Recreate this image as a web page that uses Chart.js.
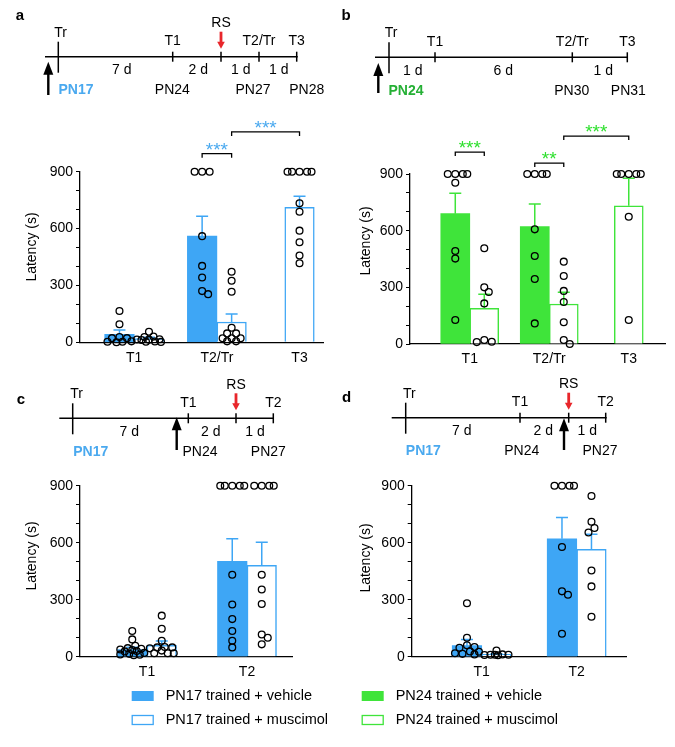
<!DOCTYPE html>
<html>
<head>
<meta charset="utf-8">
<script src="https://cdn.jsdelivr.net/npm/chart.js@4.4.1/dist/chart.umd.min.js"></script>
<style>
  html, body { margin: 0; padding: 0; background: #fff; }
  #page { position: relative; width: 675px; height: 747px; overflow: hidden; }
  canvas { position: absolute; }
</style>
</head>
<body>
<div id="page">
  <canvas id="overlay" width="675" height="747" style="left:0;top:0"></canvas>
  <canvas id="chartA" width="340" height="280" style="left:0;top:100px"></canvas>
  <canvas id="chartB" width="335" height="280" style="left:340px;top:100px"></canvas>
  <canvas id="chartC" width="340" height="230" style="left:0;top:460px"></canvas>
  <canvas id="chartD" width="335" height="230" style="left:340px;top:460px"></canvas>
</div>
<script>
// === Dados (latência em s) ===
const catsA = ["T1", "T2/Tr", "T3"];
const vehMeanA = [42, 560, null];
const vehSemA = [23, 105, null];
const musMeanA = [20, 107, 712];
const musSemA = [7, 42, 58];
const vehDotsA = [[165, 95, 28, 22, 22, 5, 3, 3, 0], [900, 900, 900, 560, 403, 342, 270, 254], []];
const musDotsA = [[56, 30, 28, 16, 15, 14, 12, 4, 3, 2], [372, 325, 267, 77, 47, 47, 21, 21, 21, 5, 5], [900, 900, 900, 900, 900, 733, 689, 589, 528, 458, 417]];
const sigA = ["***", "***"];

const catsB = ["T1", "T2/Tr", "T3"];
const vehMeanB = [690, 621, null];
const vehSemB = [108, 120, null];
const musMeanB = [189, 212, 732];
const musSemB = [74, 62, 145];
const vehDotsB = [[900, 900, 900, 900, 854, 492, 452, 127], [900, 900, 900, 900, 607, 466, 344, 109], []];
const musDotsB = [[507, 300, 275, 215, 21, 12, 10], [436, 360, 281, 222, 115, 21, 0], [900, 900, 900, 900, 900, 674, 127]];
const sigB = ["***", "**", "***"];

const catsC = ["T1", "T2"];
const vehMeanC = [38, 502];
const vehSemC = [12, 119];
const musMeanC = [60, 481];
const musSemC = [22, 121];
const vehDotsC = [[135, 91, 58, 45, 42, 38, 35, 30, 28, 20, 15, 12, 10, 8], [900, 900, 900, 900, 900, 431, 275, 198, 135, 84, 49]];
const musDotsC = [[216, 147, 84, 51, 49, 49, 44, 32, 18, 18, 18], [900, 900, 900, 900, 431, 354, 277, 117, 100, 65]];

const catsD = ["T1", "T2"];
const vehMeanD = [58, 621];
const vehSemD = [33, 112];
const musMeanD = [12, 565];
const musSemD = [3, 79];
const vehDotsD = [[281, 100, 60, 51, 47, 28, 26, 18, 15, 12], [900, 900, 900, 900, 577, 344, 326, 121]];
const musDotsD = [[32, 12, 10, 10, 9, 8, 10], [846, 710, 677, 654, 454, 370, 210]];

const legendLabels = ["PN17 trained + vehicle", "PN17 trained + muscimol", "PN24 trained + vehicle", "PN24 trained + muscimol"];

// === Cores ===
const BLUE = "#3ea6f5";
const GREEN = "#3fe43a";
const BLUE_TXT = "#4aa9ef";
const GREEN_TXT = "#25b035";
const GREEN_STAR = "#2fe02f";
const RED = "#e8262b";
const FONT = "'Liberation Sans', Arial, Helvetica, sans-serif";

Chart.defaults.font.family = FONT;
Chart.defaults.color = "#000";

// espalha pontos lado a lado dentro da barra (offset em px)
function swarm(values, pxVal, lim) {
  const placed = [];
  const cands = [0];
  for (let o = 1.5; o <= lim; o += 1.5) cands.push(o, -o);
  return values.map((v) => {
    const y = v * pxVal;
    let best = 0, bestD = -1;
    for (const off of cands) {
      const d = placed.length ? Math.min(...placed.map((p) => Math.hypot(p.off - off, p.y - y))) : Infinity;
      if (d >= 6.5) { best = off; break; }
      if (d > bestD) { bestD = d; best = off; }
    }
    placed.push({ off: best, y });
    return best;
  });
}

// barras de erro (só para cima)
const errorBars = {
  id: "errorBars",
  afterDatasetDraw(chart, args) {
    if (args.meta.type !== "bar") return;
    const ds = chart.data.datasets[args.index];
    const yS = chart.scales.y;
    const c = chart.ctx;
    c.save();
    c.strokeStyle = ds.borderColor;
    c.lineWidth = 1.5;
    args.meta.data.forEach((el, i) => {
      const m = ds.data[i].y;
      if (m == null) return;
      const yt = yS.getPixelForValue(m + ds.sem[i]);
      c.beginPath();
      c.moveTo(el.x, el.y);
      c.lineTo(el.x, yt);
      c.moveTo(el.x - 6, yt);
      c.lineTo(el.x + 6, yt);
      c.stroke();
    });
    c.restore();
  },
};

function buildPanel(canvasId, P) {
  const cv = document.getElementById(canvasId);
  const W = cv.width, H = cv.height;
  const pxUnit = (P.right - P.left) / (P.xMax - P.xMin);
  const pxVal = (P.bottom - P.top) / 900;
  const half = P.bar / 2;

  const dots = (lists, series) => {
    const pts = [];
    lists.forEach((vals, i) => {
      const paired = P.vehMean[i] != null && P.musMean[i] != null;
      const shift = paired ? (series === 0 ? -half : half) : 0;
      swarm(vals, pxVal, half - 2).forEach((off, j) => pts.push({ x: i + (shift + off) / pxUnit, y: vals[j] }));
    });
    return pts;
  };

  const dotStyle = {
    type: "scatter",
    pointRadius: 3.4,
    pointBorderWidth: 1.3,
    borderColor: "#000",
    backgroundColor: "rgba(0,0,0,0)",
    clip: false,
    order: 0,
  };

  const extras = {
    id: "extras",
    afterDraw(chart) {
      const c = chart.ctx;
      const yS = chart.scales.y;
      // título do eixo y
      c.save();
      c.fillStyle = "#000";
      c.font = "14px " + FONT;
      c.textAlign = "center";
      c.textBaseline = "middle";
      c.translate(P.titleX - P.ox, P.titleY - P.oy);
      c.rotate(-Math.PI / 2);
      c.fillText("Latency (s)", 0, 0);
      c.restore();
      // colchetes de significância
      P.brackets.forEach((b, k) => {
        const x1 = chart.getDatasetMeta(b.a[1]).data[b.a[0]].x;
        const x2 = chart.getDatasetMeta(b.b[1]).data[b.b[0]].x;
        const y = yS.getPixelForValue(b.level);
        c.save();
        c.strokeStyle = "#000";
        c.lineWidth = 1.3;
        c.beginPath();
        c.moveTo(x1, y + 4);
        c.lineTo(x1, y);
        c.lineTo(x2, y);
        c.lineTo(x2, y + 4);
        c.stroke();
        c.fillStyle = P.starColor;
        c.font = "19px " + FONT;
        c.textAlign = "center";
        c.textBaseline = "alphabetic";
        c.fillText(P.sig[k], (x1 + x2) / 2, y - 9 + 0.57 * 19);
        c.restore();
      });
    },
  };

  return new Chart(cv, {
    type: "bar",
    data: {
      datasets: [
        {
          type: "bar",
          label: "vehicle",
          data: P.cats.map((c, i) => ({ x: i, y: P.vehMean[i] })),
          sem: P.vehSem,
          backgroundColor: P.color,
          borderColor: P.color,
          borderWidth: 0,
          barThickness: P.bar,
          skipNull: true,
          order: 1,
        },
        {
          type: "bar",
          label: "muscimol",
          data: P.cats.map((c, i) => ({ x: i, y: P.musMean[i] })),
          sem: P.musSem,
          backgroundColor: "#fff",
          borderColor: P.color,
          borderWidth: 1.5,
          barThickness: P.bar,
          skipNull: true,
          order: 1,
        },
        Object.assign({ data: dots(P.vehDots, 0) }, dotStyle),
        Object.assign({ data: dots(P.musDots, 1) }, dotStyle),
      ],
    },
    options: {
      responsive: false,
      animation: false,
      devicePixelRatio: 1,
      layout: { padding: { left: 0, top: P.top - P.oy, right: W - (P.right - P.ox), bottom: 0 } },
      plugins: { legend: { display: false }, tooltip: { enabled: false } },
      scales: {
        x: {
          type: "linear",
          min: P.xMin,
          max: P.xMax,
          offset: false,
          afterFit: (s) => { s.height = H - (P.bottom - P.oy); },
          afterBuildTicks: (s) => { s.ticks = P.cats.map((c, i) => ({ value: i })); },
          ticks: { callback: (v) => P.cats[v], autoSkip: false, maxRotation: 0, padding: 7, font: { size: 14 }, color: "#000" },
          grid: { display: false, drawTicks: false },
          border: { display: true, color: "#000", width: 1.3 },
        },
        y: {
          min: 0,
          max: 900,
          afterFit: (s) => { s.width = P.left - P.ox; },
          ticks: {
            stepSize: 100,
            autoSkip: false,
            padding: 3,
            font: { size: 14 },
            color: "#000",
            callback: (v) => (v % 300 === 0 ? v : ""),
          },
          grid: { drawOnChartArea: false, drawTicks: true, tickLength: 4, color: "#000", lineWidth: 1 },
          border: { display: true, color: "#000", width: 1.3 },
        },
      },
    },
    plugins: [errorBars, extras],
  });
}

buildPanel("chartA", {
  cats: catsA, vehMean: vehMeanA, vehSem: vehSemA, musMean: musMeanA, musSem: musSemA,
  vehDots: vehDotsA, musDots: musDotsA, sig: sigA,
  color: BLUE, starColor: BLUE_TXT,
  ox: 0, oy: 100, left: 80, right: 323, top: 171.7, bottom: 342.3,
  xMin: -0.656, xMax: 2.284, bar: 29.5, titleX: 32, titleY: 247,
  brackets: [{ a: [1, 0], b: [1, 1], level: 995 }, { a: [1, 1], b: [2, 1], level: 1110 }],
});

buildPanel("chartB", {
  cats: catsB, vehMean: vehMeanB, vehSem: vehSemB, musMean: musMeanB, musSem: musSemB,
  vehDots: vehDotsB, musDots: musDotsB, sig: sigB,
  color: GREEN, starColor: GREEN_STAR,
  ox: 340, oy: 100, left: 410, right: 665, top: 174, bottom: 344,
  xMin: -0.752, xMax: 2.456, bar: 29, titleX: 366, titleY: 241,
  brackets: [{ a: [0, 0], b: [0, 1], level: 1016 }, { a: [1, 0], b: [1, 1], level: 958 }, { a: [1, 1], b: [2, 1], level: 1101 }],
});

buildPanel("chartC", {
  cats: catsC, vehMean: vehMeanC, vehSem: vehSemC, musMean: musMeanC, musSem: musSemC,
  vehDots: vehDotsC, musDots: musDotsC, sig: [],
  color: BLUE, starColor: BLUE_TXT,
  ox: 0, oy: 460, left: 80, right: 292, top: 485.7, bottom: 656.7,
  xMin: -0.67, xMax: 1.45, bar: 29.5, titleX: 32, titleY: 556,
  brackets: [],
});

buildPanel("chartD", {
  cats: catsD, vehMean: vehMeanD, vehSem: vehSemD, musMean: musMeanD, musSem: musSemD,
  vehDots: vehDotsD, musDots: musDotsD, sig: [],
  color: BLUE, starColor: BLUE_TXT,
  ox: 340, oy: 460, left: 411.7, right: 626.7, top: 485.7, bottom: 656.7,
  xMin: -0.737, xMax: 1.526, bar: 29.5, titleX: 366, titleY: 558,
  brackets: [],
});

// === Linhas do tempo e legenda ===
const ctx = document.getElementById("overlay").getContext("2d");

function text(s, x, y, size, color, bold, align) {
  ctx.font = (bold ? "bold " : "") + size + "px " + FONT;
  ctx.fillStyle = color || "#000";
  ctx.textAlign = align || "center";
  ctx.textBaseline = "middle";
  ctx.fillText(s, x, y);
}

function line(x1, y1, x2, y2, w) {
  ctx.strokeStyle = "#000";
  ctx.lineWidth = w || 1.5;
  ctx.beginPath();
  ctx.moveTo(x1, y1);
  ctx.lineTo(x2, y2);
  ctx.stroke();
}

function redArrow(x, y0, y1) {
  ctx.fillStyle = RED;
  ctx.fillRect(x - 1.4, y0, 2.8, y1 - y0 - 6);
  ctx.beginPath();
  ctx.moveTo(x - 3.8, y1 - 7);
  ctx.lineTo(x + 3.8, y1 - 7);
  ctx.lineTo(x, y1);
  ctx.closePath();
  ctx.fill();
}

function blackArrow(x, tip, bottom) {
  ctx.fillStyle = "#000";
  ctx.fillRect(x - 1.2, tip + 11, 2.4, bottom - tip - 11);
  ctx.beginPath();
  ctx.moveTo(x - 5, tip + 13);
  ctx.lineTo(x + 5, tip + 13);
  ctx.lineTo(x, tip);
  ctx.closePath();
  ctx.fill();
}

function timeline(t) {
  text(t.letter, t.letterX, t.letterY, 15, "#000", true);
  line(t.x0, t.y, t.x1, t.y);
  line(t.trX, t.y - 15, t.trX, t.y + 16);
  text("Tr", t.trLabelX, t.y - 24, 14);
  t.ticks.forEach(([x, s]) => {
    line(x, t.y - 5, x, t.y + 5);
    if (s) text(s, x, t.y - 15.5, 14);
  });
  t.days.forEach(([x, s]) => text(s, x, t.y + 13.5, 14));
  t.pns.forEach(([x, s, col]) => text(s, x, t.y + 33.5, 14, col || "#000", !!col));
  if (t.rsX != null) {
    text("RS", t.rsX, t.y - 33.5, 14);
    redArrow(t.rsX, t.y - 25, t.y - 8);
  }
  blackArrow(t.arrowX, t.arrowTip, t.arrowBottom);
}

timeline({
  letter: "a", letterX: 20, letterY: 16, y: 56.7, x0: 45, x1: 297.7, trX: 58.3, trLabelX: 60.5,
  ticks: [[172.7, "T1"], [221, ""], [259, "T2/Tr"], [296.7, "T3"]],
  days: [[121.7, "7 d"], [198.3, "2 d"], [240.7, "1 d"], [278.7, "1 d"]],
  pns: [[76, "PN17", BLUE_TXT], [172.3, "PN24"], [253, "PN27"], [306.7, "PN28"]],
  rsX: 221, arrowX: 48.3, arrowTip: 61.7, arrowBottom: 95,
});

timeline({
  letter: "b", letterX: 346, letterY: 16, y: 57.3, x0: 375, x1: 627.3, trX: 389, trLabelX: 391,
  ticks: [[435, "T1"], [572.3, "T2/Tr"], [627.3, "T3"]],
  days: [[412.7, "1 d"], [503.3, "6 d"], [603.3, "1 d"]],
  pns: [[406, "PN24", GREEN_TXT], [571.7, "PN30"], [628.3, "PN31"]],
  rsX: null, arrowX: 378.3, arrowTip: 63, arrowBottom: 93,
});

timeline({
  letter: "c", letterX: 21, letterY: 400, y: 418.3, x0: 59.3, x1: 273.3, trX: 72.7, trLabelX: 76.5,
  ticks: [[188.3, "T1"], [236, ""], [273.3, "T2"]],
  days: [[129.3, "7 d"], [210.7, "2 d"], [255, "1 d"]],
  pns: [[90.7, "PN17", BLUE_TXT], [200, "PN24"], [268.3, "PN27"]],
  rsX: 236, arrowX: 176.7, arrowTip: 417.3, arrowBottom: 450,
});

timeline({
  letter: "d", letterX: 346.7, letterY: 398.3, y: 417.7, x0: 391.7, x1: 606.7, trX: 405.7, trLabelX: 409.3,
  ticks: [[520, "T1"], [568.7, ""], [605.7, "T2"]],
  days: [[461.7, "7 d"], [543.3, "2 d"], [587.3, "1 d"]],
  pns: [[423.3, "PN17", BLUE_TXT], [521.7, "PN24"], [600, "PN27"]],
  rsX: 568.7, arrowX: 564, arrowTip: 418.3, arrowBottom: 450,
});

// legenda compartilhada
const legendColors = [BLUE, BLUE, GREEN, GREEN];
legendLabels.forEach((s, i) => {
  const col = i < 2 ? 0 : 1;
  const row = i % 2;
  const sx = col ? 361.7 : 131.7;
  const cy = row ? 720 : 696;
  if (row === 0) {
    ctx.fillStyle = legendColors[i];
    ctx.fillRect(sx, cy - 5, 22, 10);
  } else {
    ctx.fillStyle = "#fff";
    ctx.fillRect(sx, cy - 5, 22, 10);
    ctx.strokeStyle = legendColors[i];
    ctx.lineWidth = 1.3;
    ctx.strokeRect(sx + 0.5, cy - 4.5, 21, 9);
  }
  text(s, sx + 34, cy, 14.5, "#000", false, "left");
});
</script>
</body>
</html>
